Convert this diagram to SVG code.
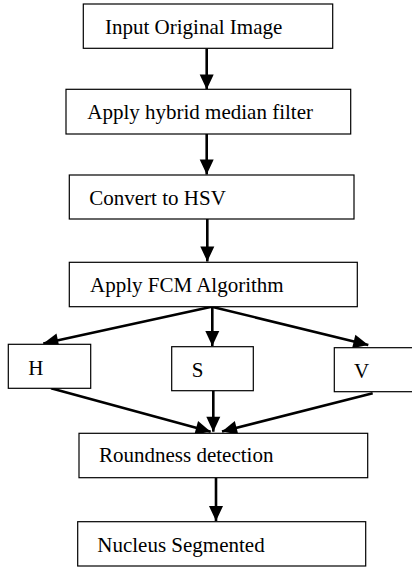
<svg xmlns="http://www.w3.org/2000/svg" width="412" height="567" viewBox="0 0 412 567">
<style>
.box{fill:#fff;stroke:#000;stroke-width:1.2}
.lbl{font-family:"Liberation Serif","Times New Roman",serif;font-size:21px;fill:#000}
.con{stroke:#000;stroke-width:2.6;fill:none;marker-end:url(#ah)}
</style>
<defs>
<marker id="ah" markerUnits="userSpaceOnUse" markerWidth="17" markerHeight="17" viewBox="0 0 17 17" refX="16" refY="8.5" orient="auto">
<path d="M1,1.5 L16,8.5 L1,15.5 Z" fill="#000"/>
</marker>
</defs>
<rect width="412" height="567" fill="#fff"/>
<g id="connectors">
<line class="con" x1="206.7" y1="48.5" x2="206.7" y2="89.5"/>
<line class="con" x1="206.7" y1="134" x2="206.7" y2="174.5"/>
<line class="con" x1="207.3" y1="219" x2="207.3" y2="261.5"/>
<line class="con" x1="211.7" y1="306.7" x2="43.3" y2="343.5"/>
<line class="con" x1="212.3" y1="306.7" x2="212.3" y2="346"/>
<line class="con" x1="211.7" y1="306.7" x2="368.3" y2="345"/>
<line class="con" x1="51" y1="388.3" x2="210.7" y2="431.7"/>
<line class="con" x1="213.3" y1="390.7" x2="213.3" y2="431.7"/>
<line class="con" x1="372.7" y1="393.3" x2="222" y2="431.5"/>
<line class="con" x1="216" y1="477.7" x2="216" y2="521"/>
</g>
<g id="n1"><rect class="box" x="83.3" y="4" width="249.4" height="44.3"/><text class="lbl" x="105" y="34">Input Original Image</text></g>
<g id="n2"><rect class="box" x="66" y="89.3" width="284.7" height="44.7"/><text class="lbl" x="87.3" y="118.7">Apply hybrid median filter</text></g>
<g id="n3"><rect class="box" x="69.3" y="175" width="284.7" height="44"/><text class="lbl" x="89.3" y="205">Convert to HSV</text></g>
<g id="n4"><rect class="box" x="69.3" y="262.3" width="288" height="44.4"/><text class="lbl" x="90" y="291.7">Apply FCM Algorithm</text></g>
<g id="nH"><rect class="box" x="8.3" y="344.3" width="82.4" height="44"/><text class="lbl" x="28.3" y="375">H</text></g>
<g id="nS"><rect class="box" x="171.7" y="346.7" width="81.6" height="44"/><text class="lbl" x="191.7" y="377">S</text></g>
<g id="nV"><rect class="box" x="334.3" y="347.7" width="90" height="44"/><text class="lbl" x="354" y="378">V</text></g>
<g id="n5"><rect class="box" x="79" y="433.3" width="288.7" height="44.4"/><text class="lbl" x="99" y="461.7">Roundness detection</text></g>
<g id="n6"><rect class="box" x="77.7" y="521.7" width="288" height="44.3"/><text class="lbl" x="97.3" y="551.7">Nucleus Segmented</text></g>
</svg>
